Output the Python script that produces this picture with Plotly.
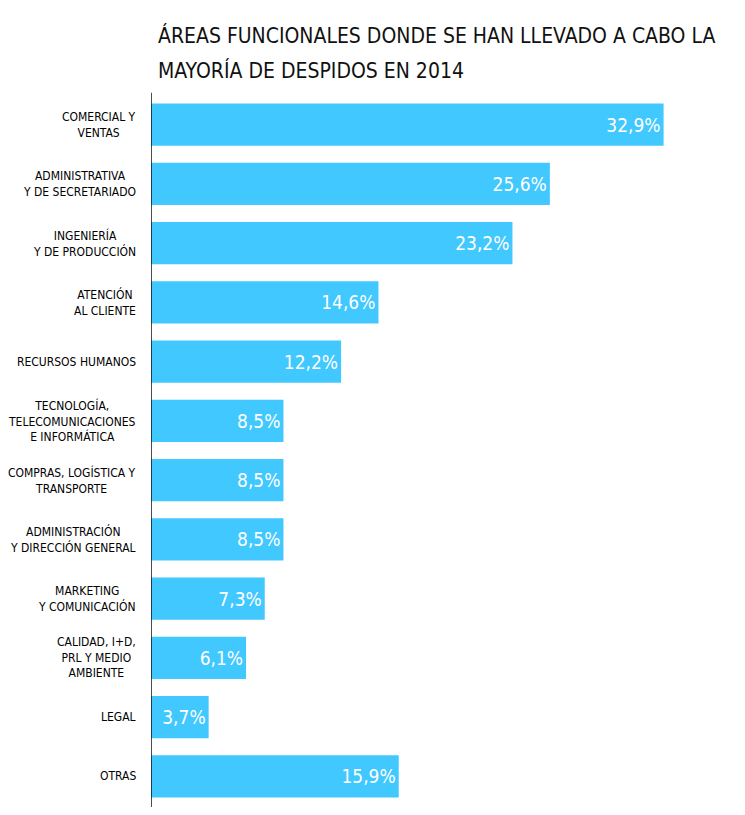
import plotly.graph_objects as go

categories = [
    "COMERCIAL Y<br>VENTAS",
    "ADMINISTRATIVA<br>Y DE SECRETARIADO",
    "INGENIERÍA<br>Y DE PRODUCCIÓN",
    "ATENCIÓN<br>AL CLIENTE",
    "RECURSOS HUMANOS",
    "TECNOLOGÍA,<br>TELECOMUNICACIONES<br>E INFORMÁTICA",
    "COMPRAS, LOGÍSTICA Y<br>TRANSPORTE",
    "ADMINISTRACIÓN<br>Y DIRECCIÓN GENERAL",
    "MARKETING<br>Y COMUNICACIÓN",
    "CALIDAD, I+D,<br>PRL Y MEDIO<br>AMBIENTE",
    "LEGAL",
    "OTRAS",
]
values = [32.9, 25.6, 23.2, 14.6, 12.2, 8.5, 8.5, 8.5, 7.3, 6.1, 3.7, 15.9]
value_labels = [f"{v:.1f}%".replace(".", ",") for v in values]
title_lines = ["ÁREAS FUNCIONALES DONDE SE HAN LLEVADO A CABO LA",
               "MAYORÍA DE DESPIDOS EN 2014"]

FONT = "DejaVu Sans Condensed, DejaVu Sans, sans-serif"
ids = list(range(len(categories)))

fig = go.Figure(go.Bar(
    x=values, y=ids, orientation="h",
    marker=dict(color="#40C8FF", line=dict(width=0)),
    text=value_labels, textposition="inside", insidetextanchor="end",
    textfont=dict(family=FONT, size=19, color="white"),
    cliponaxis=False, hoverinfo="skip",
))

for i, c in zip(ids, categories):
    fig.add_annotation(
        x=0, xref="paper", y=i, yref="y", text=c, showarrow=False,
        xanchor="right", align="center", xshift=-13,
        font=dict(family=FONT, size=12, color="#000"),
    )

for k, (line, shift) in enumerate(zip(title_lines, [60, 25])):
    fig.add_annotation(
        x=0, xref="paper", y=1, yref="paper", text=line, showarrow=False,
        xanchor="left", yanchor="middle", xshift=5, yshift=shift,
        font=dict(family=FONT, size=21, color="#111"),
    )

fig.update_layout(
    width=729, height=799,
    margin=dict(l=143, r=10, t=87, b=1),
    paper_bgcolor="white", plot_bgcolor="white",
    bargap=0.29, showlegend=False,
    xaxis=dict(range=[0, 36.97], visible=False, fixedrange=True),
    yaxis=dict(autorange="reversed", showticklabels=False, showgrid=False,
               zeroline=False, showline=False, fixedrange=True),
)
fig.add_shape(type="line", xref="x", yref="paper", x0=0, x1=0, y0=-0.003, y1=1.003,
              line=dict(color="#111", width=1.5))

fig.write_html("out.html")
